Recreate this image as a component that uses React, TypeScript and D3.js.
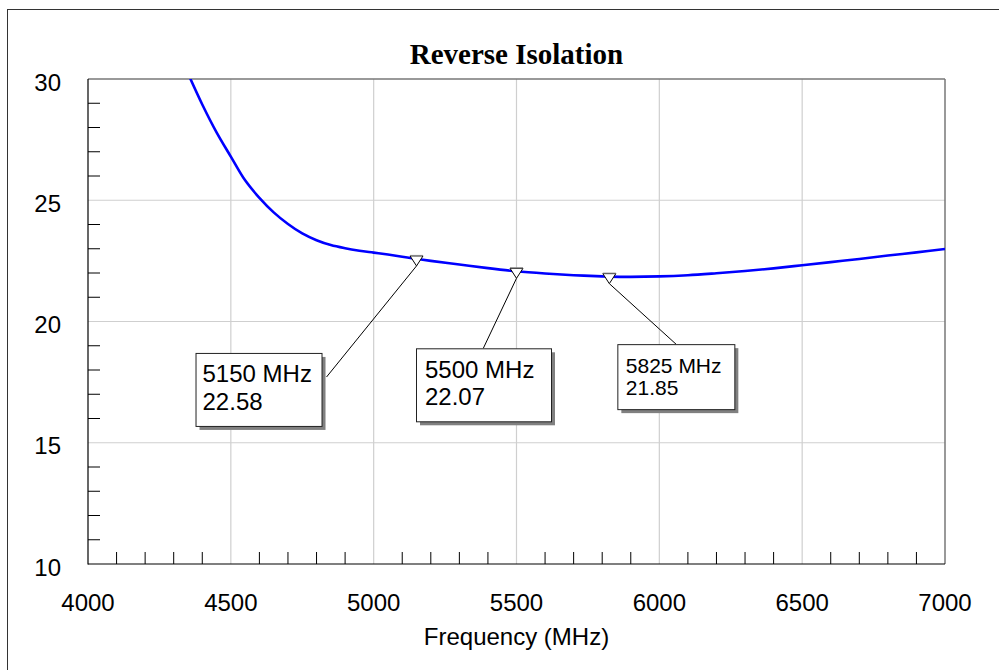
import React from "react";
import * as d3 from "d3";

const freqs = [4340, 4350, 4400, 4450, 4500, 4550, 4600, 4650, 4700, 4750, 4800, 4850, 4900, 4950, 5000, 5050, 5100, 5150, 5200, 5300, 5400, 5500, 5600, 5700, 5800, 5825, 5900, 6000, 6100, 6200, 6300, 6400, 6500, 6600, 6700, 6800, 6900, 7000];
const isolation = [30.5, 30.23, 28.95, 27.8, 26.8, 25.82, 25.1, 24.5, 24.02, 23.63, 23.35, 23.15, 23.02, 22.92, 22.84, 22.76, 22.67, 22.58, 22.5, 22.35, 22.2, 22.07, 21.98, 21.91, 21.86, 21.85, 21.84, 21.86, 21.91, 21.99, 22.08, 22.19, 22.32, 22.45, 22.58, 22.72, 22.85, 22.99];

const xTicks = [4000, 4500, 5000, 5500, 6000, 6500, 7000];
const yTicks = [10, 15, 20, 25, 30];

const markerFreqs = [5150, 5500, 5825];
const markerValues = [22.58, 22.07, 21.85];

const title = "Reverse Isolation";
const xLabel = "Frequency (MHz)";

// layout for label boxes (pixel offsets relative to marker point)
const boxLayout = [
  { dx: -221, dy: 94, w: 126, h: 73, fs: 24, pad: 7, b1: 29.5, lh: 27.5, ly: 0.33 },
  { dx: -100.5, dy: 77, w: 135, h: 73, fs: 24, pad: 9, b1: 29.5, lh: 27.5, ly: 0 },
  { dx: 8, dy: 67.5, w: 117, h: 65, fs: 21, pad: 8.5, b1: 29, lh: 21.5, ly: 0 },
];
const leaderX = [null, 483.3, 676];

export default function App() {
  const W = 999, H = 670;
  const L = 88, R = 945, T = 79, B = 564;
  const x = d3.scaleLinear().domain([4000, 7000]).range([L, R]);
  const y = d3.scaleLinear().domain([10, 30]).range([B, T]);
  const data = freqs.map((f, i) => [f, isolation[i]] as [number, number]);
  const line = d3.line<[number, number]>().x(d => x(d[0])).y(d => y(d[1])).curve(d3.curveCatmullRom.alpha(0.5));

  const minorX = d3.range(4100, 7000, 100).filter(v => v % 500 !== 0);
  const minorY = d3.range(11, 30, 1).filter(v => v % 5 !== 0);
  const font = "'Liberation Sans', Arial, sans-serif";

  return (
    <svg width={W} height={H} style={{ position: "absolute", left: 0, top: 0, background: "#fff" }}>
      <defs>
        <clipPath id="plotclip">
          <rect x={L} y={T} width={R - L} height={B - T} />
        </clipPath>
      </defs>
      <rect x={7.5} y={9.5} width={1000} height={700} fill="none" stroke="#333" strokeWidth={1} />
      {xTicks.slice(1, -1).map(v => (
        <line key={"gx" + v} x1={x(v)} x2={x(v)} y1={T} y2={B} stroke="#cfcfcf" strokeWidth={1.2} />
      ))}
      {yTicks.slice(1, -1).map(v => (
        <line key={"gy" + v} x1={L} x2={R} y1={y(v)} y2={y(v)} stroke="#cfcfcf" strokeWidth={1.2} />
      ))}
      {minorX.map(v => (
        <line key={"mx" + v} x1={x(v)} x2={x(v)} y1={B} y2={B - 12} stroke="#000" strokeWidth={1} />
      ))}
      {minorY.map(v => (
        <line key={"my" + v} x1={L} x2={L + 12} y1={y(v)} y2={y(v)} stroke="#000" strokeWidth={1} />
      ))}
      <line x1={L} x2={R} y1={T} y2={T} stroke="#777" strokeWidth={1.5} />
      <line x1={R} x2={R} y1={T} y2={B} stroke="#777" strokeWidth={1.5} />
      <line x1={L} x2={L} y1={T} y2={B + 0.5} stroke="#000" strokeWidth={1.2} />
      <line x1={L} x2={R} y1={B} y2={B} stroke="#000" strokeWidth={1.2} />
      {xTicks.map(v => (
        <text key={"xl" + v} x={x(v)} y={B + 47} textAnchor="middle" fontFamily={font} fontSize={24} fill="#000">{v}</text>
      ))}
      {yTicks.map(v => (
        <text key={"yl" + v} x={L - 27} y={y(v) + 11.5} textAnchor="end" fontFamily={font} fontSize={24} fill="#000">{v}</text>
      ))}
      <text x={(L + R) / 2} y={645} textAnchor="middle" fontFamily={font} fontSize={24} fill="#000">{xLabel}</text>
      <text x={(L + R) / 2} y={64} textAnchor="middle" fontFamily="'Liberation Serif', 'Times New Roman', serif" fontWeight="bold" fontSize={29} fill="#000">{title}</text>
      <path d={line(data) || ""} fill="none" stroke="#0000ff" strokeWidth={2.6} clipPath="url(#plotclip)" />
      {markerFreqs.map((f, i) => {
        const px = x(f), py = y(markerValues[i]);
        const b = boxLayout[i];
        const bx = px + b.dx, by = py + b.dy;
        let ex: number, ey: number;
        if (i === 0) { ex = bx + b.w + 5; ey = by + b.h * b.ly; }
        else { ex = leaderX[i] as number; ey = by; }
        return (
          <g key={"m" + f}>
            <line x1={px} y1={py + 7} x2={ex} y2={ey} stroke="#000" strokeWidth={1} />
            <path d={`M${px - 6.5},${py - 3} L${px + 6.5},${py - 3} L${px},${py + 7} Z`} fill="#fff" stroke="#000" strokeWidth={1} />
            <line x1={px - 6.5} x2={px + 6.5} y1={py - 3.5} y2={py - 3.5} stroke="#888" strokeWidth={1} />
            <rect x={bx + 4} y={by + 4} width={b.w} height={b.h} fill="#808080" />
            <rect x={bx + 0.5} y={by + 0.5} width={b.w} height={b.h} fill="#fff" stroke="#222" strokeWidth={1} />
            <text x={bx + b.pad} y={by + b.b1} fontFamily={font} fontSize={b.fs} fill="#000">{`${f} MHz`}</text>
            <text x={bx + b.pad} y={by + b.b1 + b.lh} fontFamily={font} fontSize={b.fs} fill="#000">{markerValues[i].toFixed(2)}</text>
          </g>
        );
      })}
    </svg>
  );
}
